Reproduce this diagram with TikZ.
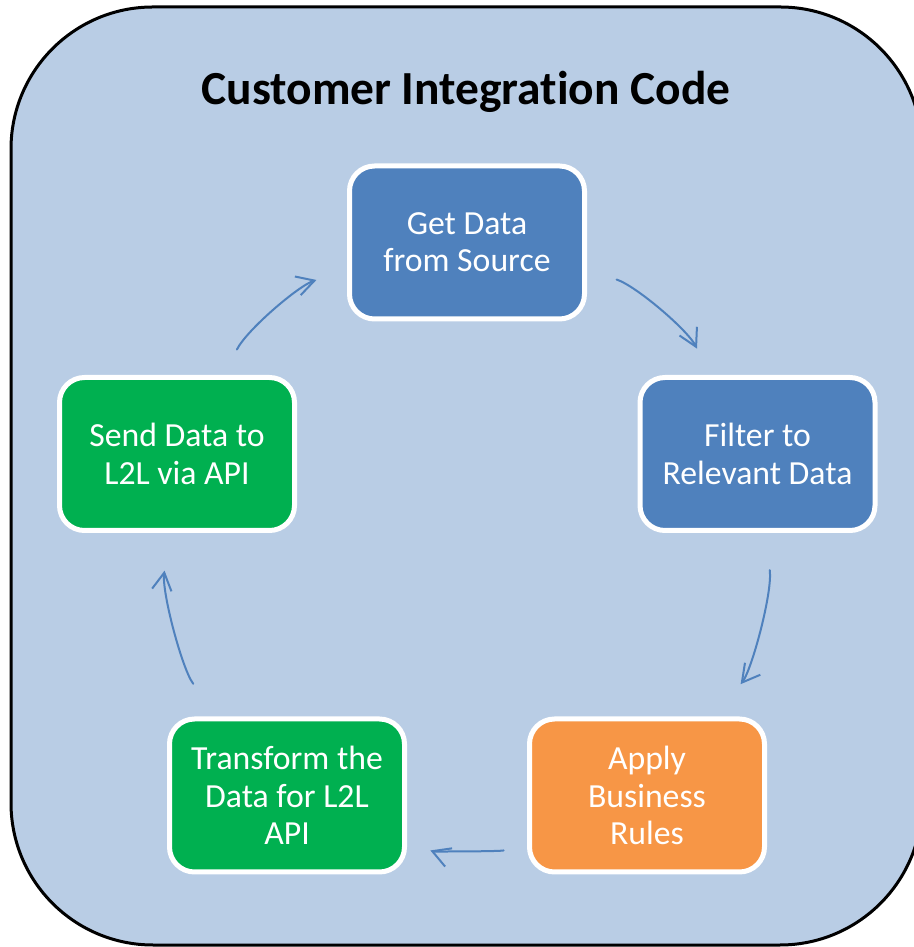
\documentclass[tikz,border=0pt]{standalone}
\usepackage{fontspec}
\setmainfont{Carlito}[Ligatures={NoCommon,NoRequired,NoContextual,NoRare}]
\usetikzlibrary{arrows.meta}

\definecolor{panelblue}{HTML}{B9CDE5}
\definecolor{stepblue}{HTML}{4F81BD}
\definecolor{stepgreen}{HTML}{00B050}
\definecolor{steporange}{HTML}{F79646}

\begin{document}
\begin{tikzpicture}[line cap=round,line join=round,>={Straight Barb[length=3.5mm,width=3.9mm]},scale=1,
  stepbox/.style={draw=white,line width=1mm,rounded corners=5mm,
    minimum width=4.7cm,minimum height=3.06cm,align=center,text=white,
    font=\fontsize{19.2}{21.2}\selectfont},
  flow/.style={->,stepblue,line width=0.4mm,bend left=23,looseness=0.8}]

\useasboundingbox (0,0) rectangle (18.28,18.94);

% -----------------------
% Frame
% -----------------------
\draw[fill=panelblue,line width=0.6mm,rounded corners=28.4mm]
  (0.22,0.04) rectangle (18.44,18.80);

\node[font=\fontsize{27}{32}\selectfont\bfseries,anchor=base] (title)
  at (9.32,16.84) {Customer Integration Code};

% -----------------------
% Steps
% -----------------------
\node[stepbox,fill=stepblue]   (get)       at (9.34,14.09) {Get Data\\from Source};
\node[stepbox,fill=stepblue]   (filter)    at (15.15,9.86) {Filter to\\Relevant Data};
\node[stepbox,fill=steporange] (apply)     at (12.94,3.03) {Apply\\Business\\Rules};
\node[stepbox,fill=stepgreen]  (transform) at (5.74,3.03)  {Transform the\\Data for L2L\\API};
\node[stepbox,fill=stepgreen]  (send)      at (3.54,9.86)  {Send Data to\\L2L via API};

% -----------------------
% Cycle arrows
% -----------------------
\draw[flow,shorten <=5.7mm,shorten >=6.4mm] (send) to (get);
\draw[flow,shorten <=6.2mm,shorten >=5.9mm] (get) to (filter);
\draw[flow,shorten <=7.5mm,shorten >=8.2mm] (filter) to (apply);
\draw[flow,bend left=21,looseness=0.6,shorten <=5mm,shorten >=5mm] (apply) to (transform);
\draw[flow,shorten <=8.3mm,shorten >=7.6mm] (transform) to (send);

\end{tikzpicture}
\end{document}
